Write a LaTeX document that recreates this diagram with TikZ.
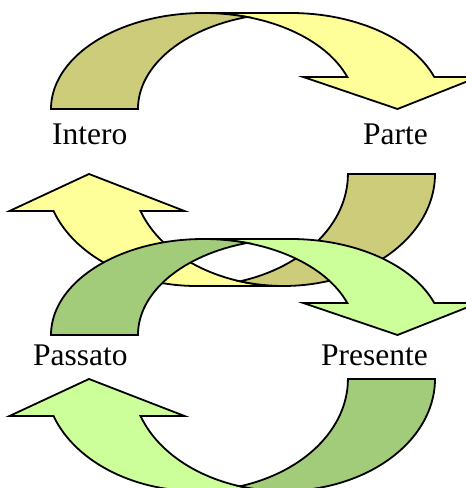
\documentclass[tikz,border=0pt]{standalone}
\usepackage{fontspec}
\setmainfont{Liberation Serif}
\definecolor{khaki}{RGB}{204,204,122}
\definecolor{paleyellow}{RGB}{255,255,153}
\definecolor{leafgreen}{RGB}{163,204,122}
\definecolor{palegreen}{RGB}{204,255,153}
\tikzset{
  band/.style={draw=black, line width=1.8pt, line join=miter},
  caption/.style={font=\fontsize{31.5}{36}\selectfont, inner sep=0pt, anchor=base west},
}
% Curved arrow bending over the top, head on the right pointing down.
% #1 vertical offset, #2 front colour, #3 back colour
\newcommand\curvedoverarrow[3]{%
  \begin{scope}[shift={(0,#1)}]
    \filldraw[band, fill=#2] (397.5,379) -- (303.3,411) -- (347.3,411)
      arc[start angle=19.47, end angle=90, x radius=152.5, y radius=96]
      -- (290.5,475)
      arc[start angle=90, end angle=19.47, x radius=152.5, y radius=96]
      -- (478.3,411) -- cycle;
    \filldraw[band, fill=#3] (51,379)
      arc[start angle=180, end angle=73.43, x radius=152.5, y radius=96]
      arc[start angle=106.57, end angle=180, x radius=152.5, y radius=96]
      -- cycle;
  \end{scope}}
% Curved arrow bending under the bottom, head on the left pointing up.
\newcommand\curvedunderarrow[3]{%
  \begin{scope}[shift={(0,#1)}]
    \filldraw[band, fill=#2] (140.5,277)
      arc[start angle=-160.71, end angle=-90, x radius=151.5, y radius=112]
      -- (196.5,202)
      arc[start angle=-90, end angle=-160.71, x radius=151.5, y radius=112]
      -- (9.5,277) -- (89,314) -- (184.5,277) -- cycle;
    \filldraw[band, fill=#3] (435,314)
      arc[start angle=0, end angle=-106.7, x radius=151.5, y radius=112]
      arc[start angle=-73.3, end angle=0, x radius=151.5, y radius=112]
      -- cycle;
  \end{scope}}
\begin{document}
\begin{tikzpicture}[x=1pt, y=1pt]
  \useasboundingbox (0,0) rectangle (466,488);
  \clip (0,0) rectangle (466,488);
  \curvedoverarrow{0}{paleyellow}{khaki}
  \curvedunderarrow{0}{paleyellow}{khaki}
  \curvedoverarrow{-226}{palegreen}{leafgreen}
  \curvedunderarrow{-205}{palegreen}{leafgreen}
  \node[caption] (intero) at (52,343) {Intero};
  \node[caption] (parte) at (363,343) {Parte};
  \node[caption] (passato) at (33,122) {Passato};
  \node[caption] (presente) at (321,122) {Presente};
\end{tikzpicture}
\end{document}
